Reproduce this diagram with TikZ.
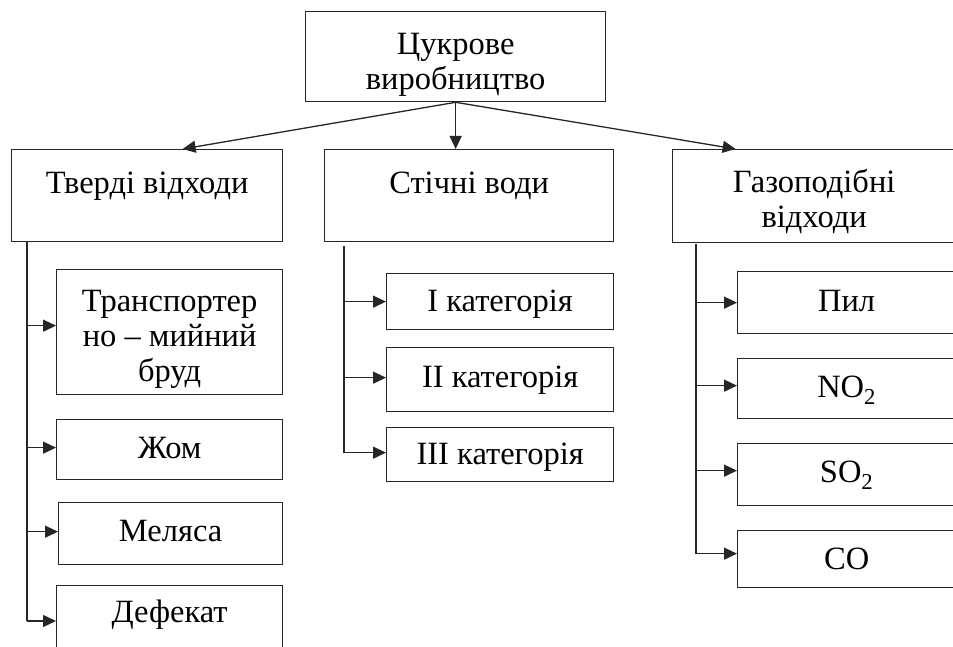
\documentclass[tikz,border=0pt]{standalone}
\usepackage{fontspec}
\setmainfont{Liberation Serif}
\usetikzlibrary{arrows.meta}
\begin{document}
\begin{tikzpicture}[x=1pt,y=-1pt,
  box/.style={draw=black!85, line width=1.3pt, rectangle, anchor=north west, inner sep=0pt, align=center, font=\fontsize{32.5}{35}\selectfont, text height=20pt},
  ln/.style={draw=black!85, line width=1.3pt},
  arr/.style={ln, -{Triangle[length=13pt,width=12pt]}}]
\useasboundingbox (0,0) rectangle (953,647);
\clip (0,0) rectangle (953,647);
% top
\node[box, minimum width=300pt, minimum height=90pt, text height=66pt, text depth=0pt] (top) at (305,11) {Цукрове\\виробництво};
% level 2
\node[box, minimum width=271pt, minimum height=92pt, text depth=24pt] (tv) at (11,149) {Тверді відходи};
\node[box, minimum width=289pt, minimum height=92pt, text depth=24pt] (sv) at (324,149) {Стічні води};
\node[box, minimum width=283pt, minimum height=93pt, text height=63pt, text depth=0pt] (gz) at (672,149) {Газоподібні\\відходи};
% left children
\node[box, minimum width=226pt, minimum height=125pt, text height=99pt, text depth=0pt] (t1) at (56,269) {Транспортер\\но – мийний\\бруд};
\node[box, minimum width=226pt, minimum height=60pt, text depth=2pt] (t2) at (56,419) {Жом};
\node[box, minimum width=224pt, minimum height=62pt, text depth=5pt] (t3) at (58,502) {Меляса};
\node[box, minimum width=226pt, text height=25pt, text depth=60pt, inner ysep=12pt] (t4) at (56,585) {Дефекат};
% middle children
\node[box, minimum width=227pt, minimum height=56pt, text depth=0pt] (s1) at (386,273) {I категорія};
\node[box, minimum width=227pt, minimum height=64pt, text depth=4pt] (s2) at (386,347) {II категорія};
\node[box, minimum width=227pt, minimum height=54pt, text depth=0pt] (s3) at (386,427) {III категорія};
% right children
\node[box, minimum width=218pt, minimum height=62pt, text depth=2pt] (g1) at (737,271) {Пил};
\node[box, minimum width=218pt, minimum height=60pt, text depth=2pt] (g2) at (737,358) {NO\textsubscript{2}};
\node[box, minimum width=218pt, minimum height=62pt, text depth=4pt] (g3) at (737,443) {SO\textsubscript{2}};
\node[box, minimum width=218pt, minimum height=57pt, text depth=0pt] (g4) at (737,530) {CO};
% top arrows
\draw[arr] (top.south) -- ([xshift=35.5pt]tv.north);
\draw[arr] (top.south) -- (top.south |- sv.north);
\draw[arr] (top.south) -- ([xshift=-78.5pt]gz.north);
% buses
\coordinate (bl) at ([xshift=16pt]tv.south west);
\coordinate (bm) at ([xshift=20pt,yshift=-4pt]sv.south west);
\coordinate (br) at ([xshift=24pt,yshift=-1pt]gz.south west);
\coordinate (t4a) at ([yshift=-36pt]t4.north west);
\draw[ln] (bl) -- (bl |- t4a);
\draw[arr] ([yshift=6.5pt]t1.west -| bl) -- ([yshift=6.5pt]t1.west);
\draw[arr] ([yshift=2pt]t2.west -| bl) -- ([yshift=2pt]t2.west);
\draw[arr] ([yshift=2pt]t3.west -| bl) -- ([yshift=2pt]t3.west);
\draw[arr] (t4a -| bl) -- (t4a);
\draw[ln] (bm) -- ([yshift=2pt]bm |- s3.west);
\draw[arr] (s1.west -| bm) -- (s1.west);
\draw[arr] ([yshift=2pt]s2.west -| bm) -- ([yshift=2pt]s2.west);
\draw[arr] ([yshift=2pt]s3.west -| bm) -- ([yshift=2pt]s3.west);
\draw[ln] (br) -- ([yshift=5.5pt]br |- g4.west);
\draw[arr] (g1.west -| br) -- (g1.west);
\draw[arr] ([yshift=3pt]g2.west -| br) -- ([yshift=3pt]g2.west);
\draw[arr] ([yshift=4pt]g3.west -| br) -- ([yshift=4pt]g3.west);
\draw[arr] ([yshift=5.5pt]g4.west -| br) -- ([yshift=5.5pt]g4.west);
\end{tikzpicture}
\end{document}
